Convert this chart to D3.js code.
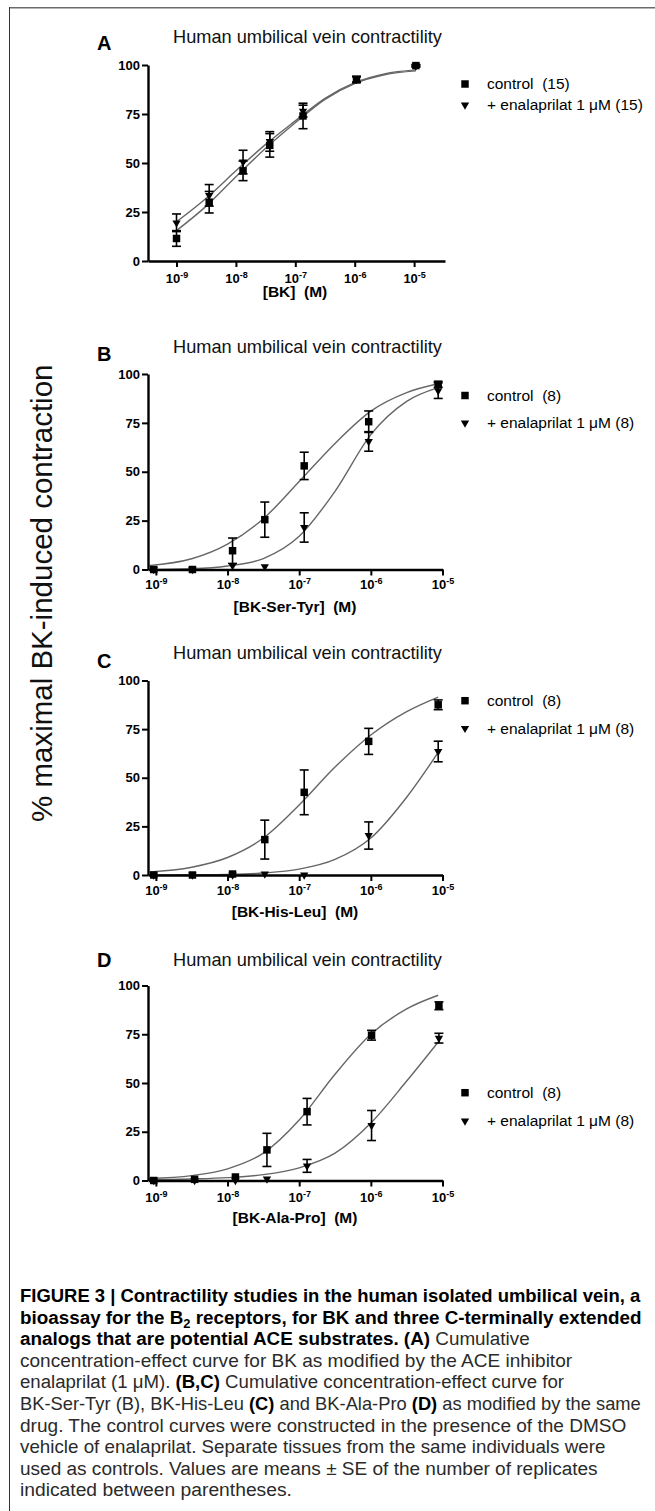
<!DOCTYPE html>
<html><head><meta charset="utf-8">
<script src="https://cdn.jsdelivr.net/npm/d3@7"></script>
<style>
body{margin:0;background:#fff}
svg{display:block}
text{font-family:"Liberation Sans",Arial,Helvetica,sans-serif}
</style>
</head><body>
<svg id="chart" width="655" height="1511"></svg>
<script>
// ---------- DATA ----------
const panelLabels = ["A", "B", "C", "D"];
const xTitles = ["[BK]  (M)", "[BK-Ser-Tyr]  (M)", "[BK-His-Leu]  (M)", "[BK-Ala-Pro]  (M)"];
const replicates = ["(15)", "(8)", "(8)", "(8)"];
const seriesNames = ["control", "+ enalaprilat 1 μM"];
const chartTitle = "Human umbilical vein contractility";
const yAxisTitle = "% maximal BK-induced contraction";
const xTickExponents = [-9, -8, -7, -6, -5];
const yTickValues = [0, 25, 50, 75, 100];

// Panel A : log10 concentration, mean, SE
const logConcA = [-9.0, -8.45, -7.88, -7.43, -6.87, -5.97, -4.97];
const controlA = [11.5, 30, 46, 59, 74, 92.5, 99.7];
const controlSeA = [4, 5.5, 5, 6, 6.5, 1.5, 0.5];
const enalA = [19.5, 33.5, 50.5, 61, 76.5, 92.8, 99.5];
const enalSeA = [4.5, 5.5, 6, 5, 3, 1.5, 0.5];
const fitLogA = [-9, -8.5, -8, -7.5, -7, -6.5, -6, -5.5, -4.97];
const fitControlA = [15.5, 28, 43, 57.5, 70.5, 82.5, 90.5, 95, 97];
const fitEnalA = [20, 32, 46, 59.5, 71.5, 83, 91, 95.5, 97.5];

// Panel B
const logConcB = [-9.03, -8.49, -7.93, -7.48, -6.93, -6.03, -5.06];
const controlB = [0, 0, 9.6, 25.5, 53, 75.6, 94.7];
const controlSeB = [0, 0, 6.5, 9, 7, 5.5, 1.5];
const enalB = [0, 0, 2, 1.5, 21.5, 65.5, 91.5];
const enalSeB = [0, 0, 0, 0, 7.5, 5, 4];
const fitLogB = [-9.11, -8.5, -8, -7.5, -7, -6.5, -6, -5.5, -5.06];
const fitControlB = [2, 5.5, 13, 26, 45, 64.5, 81, 90.5, 95];
const fitEnalB = [0, 0.4, 1.8, 5.6, 17, 40, 69, 86, 93];

// Panel C
const logConcC = [-9.03, -8.49, -7.93, -7.48, -6.93, -6.03, -5.06];
const controlC = [0, 0, 0.5, 18.2, 42.5, 68.7, 87.5];
const controlSeC = [0, 0, 0, 10, 11.5, 6.7, 2.5];
const enalC = [0, 0, 0, 0.5, 0, 20.3, 63.5];
const enalSeC = [0, 0, 0, 0, 0, 7, 5.3];
const fitLogC = [-9.11, -8.5, -8, -7.5, -7, -6.5, -6, -5.5, -5.06];
const fitControlC = [1.5, 4, 9, 19, 36, 55.5, 72, 84, 91.5];
const fitEnalC = [0, 0.1, 0.3, 1, 3, 8, 19, 40, 63];

// Panel D
const logConcD = [-9.03, -8.46, -7.89, -7.45, -6.89, -5.99, -5.05];
const controlD = [0, 0.6, 1.8, 15.7, 35.3, 74.5, 89.6];
const controlSeD = [0, 0, 0, 8.5, 6.8, 2.5, 2];
const enalD = [0, 0, 0, 0.8, 7.5, 28.2, 73];
const enalSeD = [0, 0, 0, 0, 3.3, 7.7, 2.5];
const fitLogD = [-9.11, -8.5, -8, -7.5, -7, -6.5, -6, -5.5, -5.06];
const fitControlD = [1, 2.5, 6, 14, 31, 54.5, 75, 88, 95];
const fitEnalD = [0.3, 0.8, 1.5, 3, 6.5, 14, 29.5, 51, 71];

// ---------- LAYOUT ----------
const panelData = [
  {x: logConcA, c: controlA, cs: controlSeA, e: enalA, es: enalSeA, fx: fitLogA, fc: fitControlA, fe: fitEnalA},
  {x: logConcB, c: controlB, cs: controlSeB, e: enalB, es: enalSeB, fx: fitLogB, fc: fitControlB, fe: fitEnalB},
  {x: logConcC, c: controlC, cs: controlSeC, e: enalC, es: enalSeC, fx: fitLogC, fc: fitControlC, fe: fitEnalC},
  {x: logConcD, c: controlD, cs: controlSeD, e: enalD, es: enalSeD, fx: fitLogD, fc: fitControlD, fe: fitEnalD}
];
const layout = [
  {top: 65, bottom: 261, left: 148, right: 445, dom: [-9.48, -4.48], titleY: 43, letterY: 50, tickY: 22, xtY: 36, leg: [84, 105]},
  {top: 374, bottom: 569.5, left: 148, right: 442.5, dom: [-9.11, -5.0], titleY: 353, letterY: 361, tickY: 19, xtY: 42, leg: [395.5, 423]},
  {top: 680.5, bottom: 875, left: 148, right: 442.5, dom: [-9.11, -5.0], titleY: 659, letterY: 668, tickY: 20, xtY: 42, leg: [700.7, 728.3]},
  {top: 985.5, bottom: 1180.5, left: 148, right: 442.5, dom: [-9.11, -5.0], titleY: 966, letterY: 967, tickY: 21, xtY: 42, leg: [1092.7, 1121]}
];

const svg = d3.select("#chart");
svg.append("rect").attr("width", 655).attr("height", 1511).attr("fill", "#fff");

// frame
svg.append("line").attr("x1", 9).attr("x2", 655).attr("y1", 7.5).attr("y2", 7.5).attr("stroke", "#6a6a6a").attr("stroke-width", 1);
svg.append("line").attr("x1", 9).attr("x2", 655).attr("y1", 8.5).attr("y2", 8.5).attr("stroke", "#b5b5b5").attr("stroke-width", 1);
svg.append("line").attr("x1", 9.5).attr("x2", 9.5).attr("y1", 7).attr("y2", 1511).attr("stroke", "#333").attr("stroke-width", 1);

const sqSym = d3.symbol().type(d3.symbolSquare).size(56);
const triSym = d3.symbol().type(d3.symbolTriangle).size(30);

panelData.forEach((pd, i) => {
  const L = layout[i];
  const g = svg.append("g");
  const x = d3.scaleLinear().domain(L.dom).range([L.left, L.right]);
  const y = d3.scaleLinear().domain([0, 100]).range([L.bottom, L.top]);

  // titles
  g.append("text").attr("x", 97).attr("y", L.letterY).attr("font-size", 20).attr("font-weight", "bold").text(panelLabels[i]);
  g.append("text").attr("x", 173).attr("y", L.titleY).attr("font-size", 18.2).attr("fill", "#111").text(chartTitle);

  // fitted curves
  const line = d3.line().x(d => x(d[0])).y(d => y(d[1])).curve(d3.curveMonotoneX);
  [pd.fc, pd.fe].forEach(vals => {
    g.append("path").datum(d3.zip(pd.fx, vals)).attr("d", line)
      .attr("fill", "none").attr("stroke", "#666").attr("stroke-width", 1.4);
  });

  // axes
  const yAxis = d3.axisLeft(y).tickValues(yTickValues).tickSize(6).tickSizeOuter(0).tickPadding(2);
  const ya = g.append("g").attr("transform", `translate(${L.left},0)`).call(yAxis);
  ya.select(".domain").attr("stroke-width", 2.4);
  ya.selectAll(".tick line").attr("stroke-width", 2);
  ya.selectAll(".tick text").attr("font-size", 13).attr("font-weight", "bold").attr("font-family", "Liberation Sans, Arial, sans-serif").attr("fill", "#000");

  const xAxis = d3.axisBottom(x).tickValues(xTickExponents).tickSize(6).tickSizeOuter(0).tickFormat("");
  const xa = g.append("g").attr("transform", `translate(0,${L.bottom})`).call(xAxis);
  xa.select(".domain").attr("stroke-width", 2.4);
  xa.selectAll(".tick line").attr("stroke-width", 2);
  xa.selectAll(".tick").each(function(d) {
    const t = d3.select(this).append("text").attr("y", L.tickY).attr("fill", "#000")
      .attr("font-size", 13).attr("font-weight", "bold").attr("text-anchor", "middle")
      .attr("font-family", "Liberation Sans, Arial, sans-serif");
    t.append("tspan").text("10");
    t.append("tspan").attr("dy", -5).attr("font-size", 9).text(String(d));
  });
  g.append("text").attr("x", 295).attr("y", L.bottom + L.xtY).attr("text-anchor", "middle")
    .attr("font-size", 15.5).attr("font-weight", "bold").style("white-space", "pre").text(xTitles[i]);

  // error bars
  const drawErr = (vals, ses) => {
    vals.forEach((v, k) => {
      const se = ses[k];
      if (!se) return;
      const cx = x(pd.x[k]);
      const y1 = y(Math.max(0, v - se)), y2 = y(v + se);
      g.append("line").attr("x1", cx).attr("x2", cx).attr("y1", y1).attr("y2", y2).attr("stroke", "#000").attr("stroke-width", 1.6);
      [y1, y2].forEach(yy => g.append("line").attr("x1", cx - 4.5).attr("x2", cx + 4.5).attr("y1", yy).attr("y2", yy).attr("stroke", "#000").attr("stroke-width", 1.6));
    });
  };
  drawErr(pd.c, pd.cs);
  drawErr(pd.e, pd.es);

  // markers
  pd.e.forEach((v, k) => g.append("path").attr("d", triSym).attr("fill", "#000")
    .attr("transform", `translate(${x(pd.x[k])},${y(v)}) rotate(180)`));
  pd.c.forEach((v, k) => g.append("path").attr("d", sqSym).attr("fill", "#000")
    .attr("transform", `translate(${x(pd.x[k])},${y(v)})`));

  // legend
  g.append("path").attr("d", sqSym).attr("fill", "#000").attr("transform", `translate(465,${L.leg[0]})`);
  g.append("path").attr("d", triSym).attr("fill", "#000").attr("transform", `translate(465,${L.leg[1]}) rotate(180)`);
  g.append("text").attr("x", 487).attr("y", L.leg[0]).attr("dy", "0.35em").attr("font-size", 15.5).style("white-space", "pre")
    .text(`${seriesNames[0]}  ${replicates[i]}`);
  g.append("text").attr("x", 487).attr("y", L.leg[1]).attr("dy", "0.35em").attr("font-size", 15.5).style("white-space", "pre")
    .text(`${seriesNames[1]} ${replicates[i]}`);
});

// y axis title
svg.append("text").attr("transform", "translate(52,822) rotate(-90)").attr("font-size", 29.5).attr("fill", "#111")
  .text(yAxisTitle);

// caption
const capLines = [
  [["FIGURE 3 | Contractility studies in the human isolated umbilical vein, a", 1]],
  [["bioassay for the B", 1], ["2", 1, 1], [" receptors, for BK and three C-terminally extended", 1]],
  [["analogs that are potential ACE substrates. (A)", 1], [" Cumulative", 0]],
  [["concentration-effect curve for BK as modified by the ACE inhibitor", 0]],
  [["enalaprilat (1 μM). ", 0], ["(B,C)", 1], [" Cumulative concentration-effect curve for", 0]],
  [["BK-Ser-Tyr (B), BK-His-Leu ", 0], ["(C)", 1], [" and BK-Ala-Pro ", 0], ["(D)", 1], [" as modified by the same", 0]],
  [["drug. The control curves were constructed in the presence of the DMSO", 0]],
  [["vehicle of enalaprilat. Separate tissues from the same individuals were", 0]],
  [["used as controls. Values are means ± SE of the number of replicates", 0]],
  [["indicated between parentheses.", 0]]
];
const capRight = [641, 642, 530, 573, 565, 641, 627, 606, 598, 292];
const capX = 20, capY0 = 1302, capLH = 21.6;
capLines.forEach((segs, i) => {
  const yy = capY0 + i * capLH;
  const t = svg.append("text").attr("font-size", 19).attr("fill", "#222").style("white-space", "pre")
    .attr("font-family", "Liberation Sans Narrow, Liberation Sans, Arial, sans-serif")
    .attr("transform", `translate(${capX},${yy})`);
  segs.forEach((s, j) => {
    const ts = t.append("tspan").text(s[0]).attr("font-weight", s[1] ? "bold" : "normal").attr("fill", s[1] ? "#000" : "#2a2a2a");
    if (s[2]) { ts.attr("font-size", 13).attr("dy", 4); }
    else if (j > 0 && segs[j - 1][2]) { ts.attr("dy", -4); }
  });
  const w = t.node().getBBox().width;
  const sx = (capRight[i] - capX) / w;
  t.attr("transform", `translate(${capX},${yy}) scale(${sx},1)`);
});
</script>
</body></html>
